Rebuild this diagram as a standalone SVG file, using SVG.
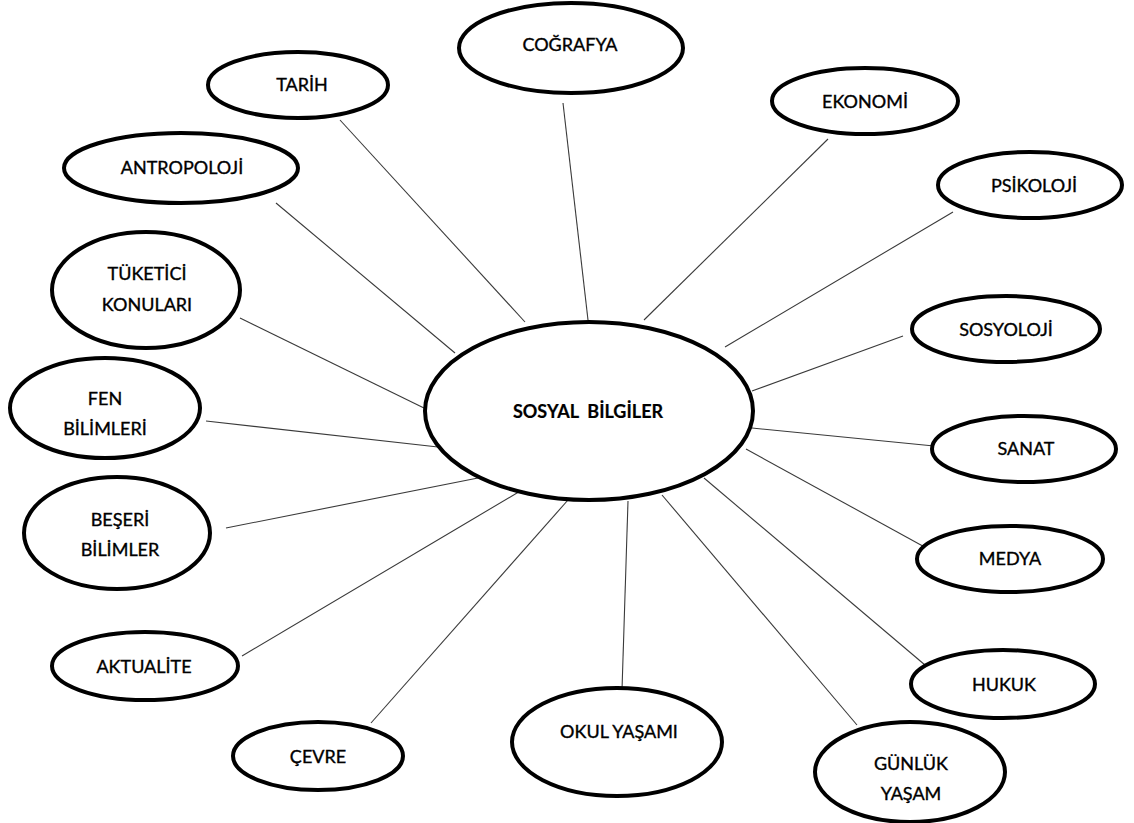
<svg xmlns="http://www.w3.org/2000/svg" width="1134" height="823" viewBox="0 0 1134 823">
<style>
.n ellipse{fill:#fff;stroke:#000;stroke-width:4}
.n text{font-family:Lato,"Open Sans","Noto Sans",sans-serif;font-size:18px;fill:#000;stroke:#000;stroke-width:0.35;text-anchor:middle;dominant-baseline:central}
#c text{font-weight:bold;stroke-width:0.2}
#edges line{stroke:#3a3a3a;stroke-width:1.1}
</style>
<rect width="1134" height="823" fill="#fff"/>
<g id="edges">
<line x1="340" y1="120" x2="525" y2="322"/>
<line x1="563" y1="103" x2="588" y2="320"/>
<line x1="828" y1="139" x2="644" y2="320"/>
<line x1="276" y1="203" x2="455" y2="353"/>
<line x1="953" y1="212" x2="725" y2="347"/>
<line x1="240" y1="318" x2="426" y2="409"/>
<line x1="903" y1="336" x2="752" y2="391"/>
<line x1="206" y1="421" x2="438" y2="447"/>
<line x1="934" y1="446" x2="752" y2="428"/>
<line x1="226" y1="528" x2="478" y2="478"/>
<line x1="930" y1="550" x2="746" y2="449"/>
<line x1="242" y1="656" x2="522" y2="490"/>
<line x1="925" y1="665" x2="704" y2="478"/>
<line x1="371" y1="723" x2="568" y2="500"/>
<line x1="622" y1="690" x2="628" y2="501"/>
<line x1="857" y1="725" x2="662" y2="495"/>
</g>
<g id="c" class="n"><ellipse cx="589" cy="411" rx="164" ry="89"/><text x="588" y="411" xml:space="preserve">SOSYAL  BİLGİLER</text></g>
<g id="cografya" class="n"><ellipse cx="571" cy="48" rx="112" ry="45"/><text x="570" y="44">COĞRAFYA</text></g>
<g id="tarih" class="n"><ellipse cx="298" cy="85" rx="90" ry="33"/><text x="302" y="84">TARİH</text></g>
<g id="ekonomi" class="n"><ellipse cx="865" cy="101" rx="93" ry="33"/><text x="865" y="101">EKONOMİ</text></g>
<g id="antropoloji" class="n"><ellipse cx="181" cy="168" rx="117" ry="35"/><text x="182" y="167">ANTROPOLOJİ</text></g>
<g id="psikoloji" class="n"><ellipse cx="1030" cy="185" rx="92" ry="33"/><text x="1034" y="185">PSİKOLOJİ</text></g>
<g id="tuketici" class="n"><ellipse cx="146" cy="290" rx="94" ry="58"/><text x="147" y="273">TÜKETİCİ</text><text x="147" y="304">KONULARI</text></g>
<g id="sosyoloji" class="n"><ellipse cx="1006" cy="329" rx="94" ry="33"/><text x="1006" y="329">SOSYOLOJİ</text></g>
<g id="fen" class="n"><ellipse cx="105" cy="408" rx="95" ry="50"/><text x="105" y="398">FEN</text><text x="105" y="428">BİLİMLERİ</text></g>
<g id="sanat" class="n"><ellipse cx="1024" cy="449" rx="92" ry="33"/><text x="1026" y="448">SANAT</text></g>
<g id="beseri" class="n"><ellipse cx="117" cy="533" rx="93" ry="56"/><text x="120" y="519">BEŞERİ</text><text x="120" y="549">BİLİMLER</text></g>
<g id="medya" class="n"><ellipse cx="1010" cy="559" rx="93" ry="33"/><text x="1010" y="558">MEDYA</text></g>
<g id="aktualite" class="n"><ellipse cx="145" cy="666" rx="93" ry="34"/><text x="144" y="666">AKTUALİTE</text></g>
<g id="hukuk" class="n"><ellipse cx="1003" cy="684" rx="92" ry="34"/><text x="1004" y="684">HUKUK</text></g>
<g id="cevre" class="n"><ellipse cx="318" cy="756" rx="85" ry="34"/><text x="318" y="756">ÇEVRE</text></g>
<g id="okul" class="n"><ellipse cx="617" cy="742" rx="105" ry="54"/><text x="619" y="731">OKUL YAŞAMI</text></g>
<g id="gunluk" class="n"><ellipse cx="910" cy="772" rx="95" ry="50"/><text x="911" y="763">GÜNLÜK</text><text x="911" y="793">YAŞAM</text></g>
</svg>
